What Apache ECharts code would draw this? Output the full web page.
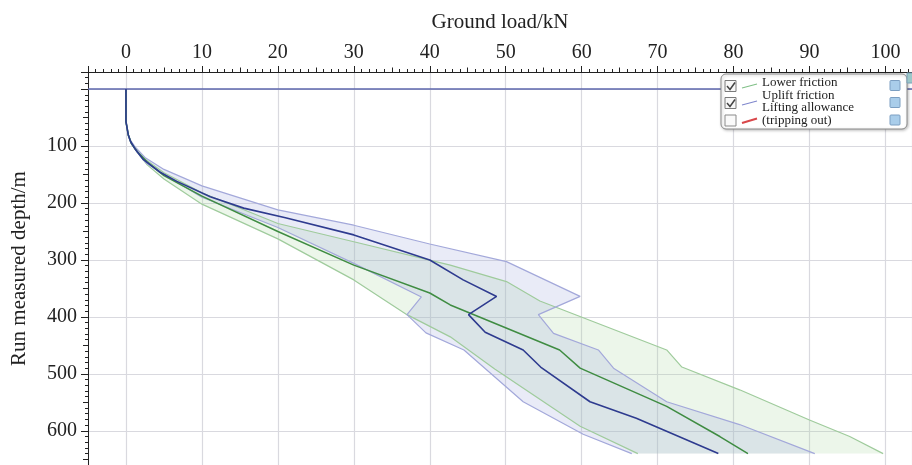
<!DOCTYPE html>
<html>
<head>
<meta charset="utf-8">
<script src="https://cdn.jsdelivr.net/npm/echarts@6/dist/echarts.min.js"></script>
<style>
  html, body { margin: 0; padding: 0; background: #fff; }
  #chart { width: 912px; height: 465px; }
</style>
</head>
<body>
<div id="chart"></div>
<script>
// [ground load kN, run measured depth m]
var lowerFriction = [[0,0],[0,57],[0.3,80],[0.7,95],[1.5,110],[2.8,128],[5,152],[10,188],[20,250],[30,309],[40,358],[42.7,379],[57.1,458],[59.8,490],[71.2,557],[78.2,610],[81.9,640]];
var lowerFrictionUp = [[0,0],[0,57],[0.3,80],[0.7,94],[1.4,108],[2.7,125],[5,147],[10,182],[20,236],[30,268],[42.7,309],[50.1,338],[54.5,372],[71.2,458],[73.2,488],[80.8,528],[90,581],[95.3,610],[99.7,640]];
var lowerFrictionLow = [[0,0],[0,57],[0.3,82],[0.8,98],[1.6,113],[2.8,133],[5,158],[10,202],[20,263],[30,335],[37,396],[42.7,435],[48.6,492],[59.8,592],[67.4,640]];

var upliftFriction = [[0,0],[0,57],[0.3,80],[0.6,92],[1.2,105],[2.3,124],[4.5,146],[6.7,162],[11.1,189],[15.5,209],[21,226],[30,256],[40,300],[44.4,335],[48.8,364],[45.1,396],[47.3,427],[52.3,458],[54.6,488],[61.1,549],[67.2,578],[78,640]];
var upliftFrictionUp = [[0,0],[0,57],[0.3,80],[0.6,90],[1.3,103],[2.5,120],[5,141],[10,170],[20,212],[30,239],[40,272],[50.1,303],[59.8,364],[54.3,396],[56.3,429],[62.2,458],[64.2,490],[71.2,549],[80.8,589],[90.7,640]];
var upliftFrictionLow = [[0,0],[0,57],[0.3,81],[0.7,96],[1.5,111],[2.7,130],[5,150],[10,190],[20,243],[30,306],[38.9,365],[37,396],[39.5,428],[44.5,458],[52.3,549],[60.2,606],[66.6,640]];

var legendNames = ['Lower friction', 'Uplift friction', 'Lifting allowance', '(tripping out)'];

var serif = '"Liberation Serif", "Times New Roman", serif';

function band(up, low, fill) {
	return {
		type: 'custom',
		silent: true,
		data: [[0, 0]],
		z: 1,
		renderItem: function (params, api) {
			var pts = [];
			up.forEach(function (p) { pts.push(api.coord(p)); });
			low.slice().reverse().forEach(function (p) { pts.push(api.coord(p)); });
			return { type: 'polygon', shape: { points: pts }, style: { fill: fill } };
		}
	};
}

function line(data, color, width, z) {
	return {
		type: 'line',
		data: data,
		showSymbol: false,
		symbol: 'none',
		silent: true,
		z: z,
		lineStyle: { color: color, width: width }
	};
}

var myChart = echarts.init(document.getElementById('chart'));

var option = {
	animation: false,
	backgroundColor: '#fff',
	grid: { left: 88, top: 72, right: 0, bottom: 0 },
	xAxis: [{
		type: 'value',
		position: 'top',
		min: -5,
		max: 103.5,
		minInterval: 10,
		maxInterval: 10,
		splitNumber: 10,
		name: 'Ground load/kN',
		nameLocation: 'middle',
		nameGap: 39,
		nameTextStyle: { fontFamily: serif, fontSize: 21, color: '#222' },
		axisLine: { onZero: false, lineStyle: { color: '#222', width: 1 } },
		axisTick: { length: 6, lineStyle: { color: '#222' } },
		minorTick: { show: true, splitNumber: 10, length: 3, lineStyle: { color: '#222' } },
		splitLine: { show: true, lineStyle: { color: '#d9d9df', width: 1.2 } },
		axisLabel: { showMinLabel: false, showMaxLabel: false, margin: 9, fontFamily: serif, fontSize: 20, color: '#222' }
	}, {
		type: 'value',
		position: 'top',
		min: -5,
		max: 103.5,
		minInterval: 5,
		maxInterval: 5,
		splitNumber: 21,
		axisLine: { show: false, onZero: false },
		axisTick: { length: 4.5, lineStyle: { color: '#222' } },
		axisLabel: { show: false },
		splitLine: { show: false }
	}],
	yAxis: [{
		type: 'value',
		inverse: true,
		position: 'left',
		min: -30,
		max: 660,
		minInterval: 100,
		maxInterval: 100,
		splitNumber: 7,
		name: 'Run measured depth/m',
		nameLocation: 'middle',
		nameGap: 58,
		nameTextStyle: { fontFamily: serif, fontSize: 21, color: '#222' },
		axisLine: { onZero: false, lineStyle: { color: '#222', width: 1 } },
		axisTick: { length: 7, lineStyle: { color: '#222' } },
		minorTick: { show: true, splitNumber: 10, length: 3, lineStyle: { color: '#222' } },
		splitLine: { show: true, lineStyle: { color: '#d9d9df', width: 1.2 } },
		axisLabel: {
			showMinLabel: false, showMaxLabel: false, margin: 11,
			fontFamily: serif, fontSize: 20, color: '#222',
			formatter: function (v) { return v <= 0 ? '' : v; }
		}
	}, {
		type: 'value',
		inverse: true,
		position: 'left',
		min: -30,
		max: 660,
		minInterval: 50,
		maxInterval: 50,
		splitNumber: 14,
		axisLine: { show: false, onZero: false },
		axisTick: { length: 5, lineStyle: { color: '#222' } },
		axisLabel: { show: false },
		splitLine: { show: false }
	}],
	series: [
		band(lowerFrictionUp, lowerFrictionLow, 'rgba(170,215,160,0.22)'),
		band(upliftFrictionUp, upliftFrictionLow, 'rgba(165,172,222,0.24)'),
		line(lowerFrictionUp, '#9fcb9c', 1.2, 3),
		line(lowerFrictionLow, '#9fcb9c', 1.2, 3),
		line(upliftFrictionUp, '#a3a8da', 1.2, 3),
		line(upliftFrictionLow, '#a3a8da', 1.2, 3),
		line(lowerFriction, '#3f8c42', 1.5, 4),
		{
			type: 'line',
			data: upliftFriction,
			showSymbol: false,
			symbol: 'none',
			silent: true,
			z: 5,
			lineStyle: { color: '#2e3b8f', width: 1.6 },
			markLine: {
				silent: true,
				symbol: 'none',
				label: { show: false },
				lineStyle: { color: '#5d66ad', width: 1.5, type: 'solid' },
				data: [{ yAxis: 0 }]
			}
		}
	],
	graphic: [
		{ type: 'rect', shape: { x: 721, y: 74, width: 186, height: 55, r: 5 }, style: { fill: '#fff', stroke: '#8c8c8c', lineWidth: 1, shadowBlur: 3, shadowOffsetX: 1, shadowOffsetY: 1, shadowColor: 'rgba(0,0,0,0.25)' }, z: 10 },
		{ type: 'rect', shape: { x: 907, y: 73, width: 6, height: 10 }, style: { fill: '#9cc7c8', stroke: '#7aa0b8', lineWidth: 1 }, z: 10 },
		// check boxes
		{ type: 'rect', shape: { x: 725, y: 80.5, width: 11, height: 11 }, style: { fill: '#f7f7f7', stroke: '#7a7a7a', lineWidth: 1 }, z: 11 },
		{ type: 'rect', shape: { x: 725, y: 97.5, width: 11, height: 11 }, style: { fill: '#f7f7f7', stroke: '#7a7a7a', lineWidth: 1 }, z: 11 },
		{ type: 'rect', shape: { x: 725, y: 115, width: 11, height: 11 }, style: { fill: '#fafafa', stroke: '#8a8a8a', lineWidth: 1 }, z: 11 },
		{ type: 'polyline', shape: { points: [[727, 86], [730, 89.5], [735, 82.5]] }, style: { stroke: '#444', lineWidth: 1.5, fill: null }, z: 12 },
		{ type: 'polyline', shape: { points: [[727, 103], [730, 106.5], [735, 99.5]] }, style: { stroke: '#444', lineWidth: 1.5, fill: null }, z: 12 },
		// line swatches
		{ type: 'line', shape: { x1: 742, y1: 88, x2: 757, y2: 84 }, style: { stroke: '#7fbf86', lineWidth: 1.2 }, z: 11 },
		{ type: 'line', shape: { x1: 742, y1: 105, x2: 757, y2: 101 }, style: { stroke: '#7e86cc', lineWidth: 1.2 }, z: 11 },
		{ type: 'line', shape: { x1: 742, y1: 123, x2: 757, y2: 118.5 }, style: { stroke: '#d9474a', lineWidth: 2 }, z: 11 },
		// labels
		{ type: 'text', x: 762, y: 83, style: { text: legendNames[0], font: '13px ' + serif, fill: '#222', verticalAlign: 'middle' }, z: 11 },
		{ type: 'text', x: 762, y: 95.5, style: { text: legendNames[1], font: '13px ' + serif, fill: '#222', verticalAlign: 'middle' }, z: 11 },
		{ type: 'text', x: 762, y: 108, style: { text: legendNames[2], font: '13px ' + serif, fill: '#222', verticalAlign: 'middle' }, z: 11 },
		{ type: 'text', x: 762, y: 120.5, style: { text: legendNames[3], font: '13px ' + serif, fill: '#222', verticalAlign: 'middle' }, z: 11 },
		// colour buttons
		{ type: 'rect', shape: { x: 890, y: 80.5, width: 10, height: 10, r: 1 }, style: { fill: '#a9cdea', stroke: '#7c9fc2', lineWidth: 1 }, z: 11 },
		{ type: 'rect', shape: { x: 890, y: 97.5, width: 10, height: 10, r: 1 }, style: { fill: '#a9cdea', stroke: '#7c9fc2', lineWidth: 1 }, z: 11 },
		{ type: 'rect', shape: { x: 890, y: 115, width: 10, height: 10, r: 1 }, style: { fill: '#a9cdea', stroke: '#7c9fc2', lineWidth: 1 }, z: 11 }
	]
};
myChart.setOption(option);
</script>
</body>
</html>
